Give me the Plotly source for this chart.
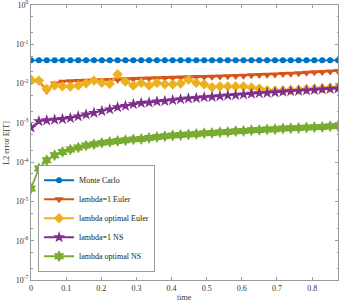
import plotly.graph_objects as go

time = [0.0, 0.0224, 0.0448, 0.0672, 0.0896, 0.112, 0.1344, 0.1568, 0.1792, 0.2016,
        0.224, 0.2464, 0.2688, 0.2912, 0.3136, 0.336, 0.3584, 0.3808, 0.4032, 0.4256,
        0.448, 0.4704, 0.4928, 0.5152, 0.5376, 0.56, 0.5824, 0.6048, 0.6272, 0.6496,
        0.672, 0.6944, 0.7168, 0.7392, 0.7616, 0.784, 0.8064, 0.8288, 0.8512, 0.8736]

monte_carlo = [0.039] * 40

lambda1_euler = [0.0115, 0.0113, 0.0065, 0.0100, 0.0112, 0.0114, 0.0116, 0.0118, 0.0120, 0.0122,
                 0.0124, 0.0126, 0.0128, 0.0130, 0.0132, 0.0134, 0.0136, 0.0138, 0.0140, 0.0142,
                 0.0144, 0.0146, 0.0148, 0.0150, 0.0152, 0.0154, 0.0157, 0.0159, 0.0162, 0.0165,
                 0.0168, 0.0171, 0.0175, 0.0179, 0.0183, 0.0188, 0.0193, 0.0198, 0.0204, 0.0210]

lambda_opt_euler = [0.0126, 0.0119, 0.0073, 0.0089, 0.0085, 0.0084, 0.0089, 0.0102, 0.0119, 0.0104,
                    0.0098, 0.0172, 0.0112, 0.0089, 0.0104, 0.0089, 0.0104, 0.0096, 0.0096, 0.0100,
                    0.0126, 0.0104, 0.0096, 0.0081, 0.0085, 0.0085, 0.0084, 0.0085, 0.0080, 0.0075,
                    0.0068, 0.0066, 0.0067, 0.0069, 0.0070, 0.0072, 0.0074, 0.0076, 0.0078, 0.0080]

lambda1_ns = [0.00076, 0.0011, 0.00116, 0.00121, 0.00125, 0.00133, 0.00146, 0.00163, 0.0018, 0.0020,
              0.0022, 0.0025, 0.0027, 0.0030, 0.0032, 0.0033, 0.0035, 0.0036, 0.0038, 0.0040,
              0.0042, 0.0043, 0.0045, 0.0046, 0.0048, 0.0050, 0.0051, 0.0053, 0.0055, 0.0057,
              0.0058, 0.0060, 0.0062, 0.0064, 0.0065, 0.0067, 0.0069, 0.0071, 0.0073, 0.0075]

lambda_opt_ns = [2.13e-5, 6.9e-5, 1.12e-4, 1.5e-4, 1.82e-4, 2.09e-4, 2.35e-4, 2.64e-4, 2.85e-4, 3.09e-4,
                 3.27e-4, 3.47e-4, 3.6e-4, 3.8e-4, 3.89e-4, 4.13e-4, 4.38e-4, 4.56e-4, 4.75e-4, 4.92e-4,
                 5.04e-4, 5.23e-4, 5.43e-4, 5.54e-4, 5.77e-4, 5.87e-4, 6.11e-4, 6.22e-4, 6.48e-4, 6.61e-4,
                 6.76e-4, 6.87e-4, 7.16e-4, 7.29e-4, 7.42e-4, 7.59e-4, 7.73e-4, 7.87e-4, 8.19e-4, 8.34e-4]

series = [
    ("Monte Carlo", monte_carlo, "#0072BD", "circle", 6),
    ("lambda=1 Euler", lambda1_euler, "#D95319", "triangle-down", 8),
    ("lambda optimal Euler", lambda_opt_euler, "#EDB120", "diamond", 8),
    ("lambda=1 NS", lambda1_ns, "#7E2F8E", "star", 9),
    ("lambda optimal NS", lambda_opt_ns, "#77AC30", "hexagram", 9),
]

xticks = [0, 0.1, 0.2, 0.3, 0.4, 0.5, 0.6, 0.7, 0.8]
xticklabels = ["0", "0.1", "0.2", "0.3", "0.4", "0.5", "0.6", "0.7", "0.8"]
yticks = [1e-7, 1e-6, 1e-5, 1e-4, 1e-3, 1e-2, 1e-1, 1e0]
yticklabels = ["10<sup>-7</sup>", "10<sup>-6</sup>", "10<sup>-5</sup>", "10<sup>-4</sup>",
               "10<sup>-3</sup>", "10<sup>-2</sup>", "10<sup>-1</sup>", "10<sup>0</sup>"]

FONT = "Liberation Serif"

fig = go.Figure()
for name, vals, color, sym, size in series:
    fig.add_trace(go.Scatter(
        x=time, y=vals, name=name, mode="lines+markers",
        line=dict(color=color, width=1.8),
        marker=dict(symbol=sym, size=size, color=color, line=dict(width=0)),
    ))

axis_common = dict(
    showline=True, linecolor="#9a9a9a", linewidth=1, mirror="ticks",
    ticks="inside", ticklen=3, tickcolor="#9a9a9a",
    showgrid=False, zeroline=False, automargin=False,
    ticklabeloverflow="allow",
    tickfont=dict(family=FONT, size=8, color="#333333"),
)

fig.update_layout(
    width=341, height=302,
    margin=dict(l=31, r=3, t=5, b=22, autoexpand=False),
    paper_bgcolor="white", plot_bgcolor="white",
    font=dict(family=FONT, size=8, color="#333333"),
    xaxis=dict(range=[0, 0.8736], tickvals=xticks, ticktext=xticklabels, **axis_common),
    yaxis=dict(type="log", range=[-7, 0], tickvals=yticks, ticktext=yticklabels,
               minor=dict(ticks="inside", ticklen=1.5, tickcolor="#9a9a9a", showgrid=False),
               **axis_common),
    legend=dict(x=0.023, y=0.03, xanchor="left", yanchor="bottom",
                bgcolor="white", bordercolor="#9a9a9a", borderwidth=1,
                font=dict(family=FONT, size=8, color="#222222"),
                tracegroupgap=0, itemwidth=30),
    showlegend=True,
    annotations=[
        dict(text="time", xref="paper", yref="paper", x=0.5, y=-0.065,
             xanchor="center", yanchor="middle", showarrow=False,
             font=dict(family=FONT, size=8, color="#333333")),
        dict(text="L2 error E[T]", xref="paper", yref="paper", x=-0.081, y=0.5,
             xanchor="center", yanchor="middle", textangle=-90, showarrow=False,
             font=dict(family=FONT, size=8, color="#333333")),
    ],
)

fig.write_html("out.html", config={"displayModeBar": False},
               post_script="document.body.style.margin='0';")
